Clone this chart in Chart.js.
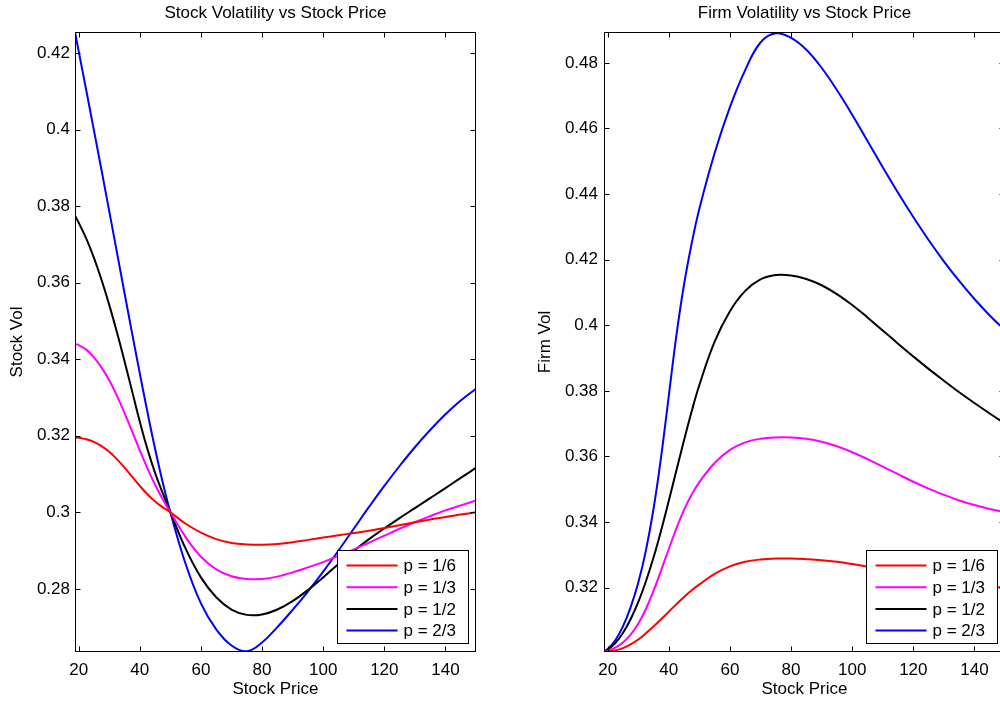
<!DOCTYPE html>
<html>
<head>
<meta charset="utf-8">
<script src="https://cdn.jsdelivr.net/npm/chart.js@4"></script>
<style>
    html, body { margin: 0; padding: 0; background: #fff; overflow: hidden; }
    #wrap { position: relative; width: 1000px; height: 702px; overflow: hidden; }
    canvas { position: absolute; top: 0; }
    #chartStock { left: 0; }
    #chartFirm { left: 500px; }
</style>
</head>
<body>
<div id="wrap">
    <canvas id="chartStock" width="500" height="702"></canvas>
    <canvas id="chartFirm" width="510" height="702"></canvas>
</div>
<script>
// ======================== DADOS ========================
const stockPrice = [18.8, 20, 22.5, 25, 27.5, 30, 32.5, 35, 37.5, 40, 42.5, 45, 47.5, 50,
    55, 60, 65, 70, 75, 80, 85, 90, 95, 100, 105, 110, 115, 120, 125, 130, 135, 140, 145, 150];

const seriesLabels = ['p = 1/6', 'p = 1/3', 'p = 1/2', 'p = 2/3'];
const seriesColors = ['#ff0000', '#ff00ff', '#000000', '#0000ff'];

// Stock Vol
const stockVolP16 = [0.3196, 0.3195, 0.3191, 0.3184, 0.3173, 0.3158, 0.3139, 0.3117, 0.3093, 0.3069, 0.3047, 0.3028, 0.3013, 0.3000,
    0.2970, 0.2947, 0.2930, 0.2920, 0.2916, 0.2915, 0.2917, 0.2922, 0.2928, 0.2934, 0.2940, 0.2946, 0.2952, 0.2959, 0.2966, 0.2974, 0.2981, 0.2988, 0.2994, 0.3000];
const stockVolP13 = [0.3440, 0.3437, 0.3425, 0.3405, 0.3378, 0.3345, 0.3305, 0.3260, 0.3211, 0.3162, 0.3115, 0.3072, 0.3034, 0.3000,
    0.2935, 0.2884, 0.2851, 0.2833, 0.2826, 0.2826, 0.2832, 0.2843, 0.2856, 0.2870, 0.2886, 0.2903, 0.2921, 0.2939, 0.2957, 0.2974, 0.2990, 0.3005, 0.3018, 0.3031];
const stockVolP12 = [0.3775, 0.3757, 0.3715, 0.3665, 0.3607, 0.3542, 0.3471, 0.3395, 0.3316, 0.3237, 0.3165, 0.3103, 0.3050, 0.3000,
    0.2905, 0.2830, 0.2778, 0.2746, 0.2732, 0.2733, 0.2746, 0.2768, 0.2797, 0.2830, 0.2865, 0.2899, 0.2930, 0.2958, 0.2985, 0.3011, 0.3037, 0.3063, 0.3090, 0.3116];
const stockVolP23 = [0.4255, 0.4205, 0.4102, 0.3998, 0.3893, 0.3787, 0.3680, 0.3573, 0.3467, 0.3363, 0.3262, 0.3166, 0.3078, 0.3000,
    0.2865, 0.2762, 0.2694, 0.2652, 0.2637, 0.2660, 0.2700, 0.2745, 0.2793, 0.2845, 0.2900, 0.2957, 0.3014, 0.3069, 0.3121, 0.3170, 0.3215, 0.3256, 0.3292, 0.3323];

// Firm Vol
const firmVolP16 = [0.3004, 0.3005, 0.3009, 0.3016, 0.3027, 0.3042, 0.3061, 0.3082, 0.3104, 0.3127, 0.3150, 0.3172, 0.3192, 0.3210,
    0.3242, 0.3265, 0.3279, 0.3286, 0.3289, 0.3289, 0.3287, 0.3284, 0.3279, 0.3272, 0.3264, 0.3255, 0.3246, 0.3237, 0.3229, 0.3221, 0.3215, 0.3209, 0.3204, 0.3200];
const firmVolP13 = [0.3004, 0.3007, 0.3017, 0.3033, 0.3057, 0.3090, 0.3135, 0.3190, 0.3253, 0.3318, 0.3381, 0.3437, 0.3484, 0.3522,
    0.3580, 0.3620, 0.3643, 0.3654, 0.3658, 0.3658, 0.3654, 0.3645, 0.3631, 0.3613, 0.3592, 0.3569, 0.3546, 0.3523, 0.3502, 0.3483, 0.3466, 0.3452, 0.3440, 0.3430];
const firmVolP12 = [0.3005, 0.3011, 0.3031, 0.3062, 0.3104, 0.3156, 0.3219, 0.3292, 0.3375, 0.3465, 0.3558, 0.3650, 0.3738, 0.3818,
    0.3950, 0.4043, 0.4105, 0.4140, 0.4153, 0.4152, 0.4141, 0.4122, 0.4095, 0.4062, 0.4024, 0.3984, 0.3944, 0.3905, 0.3867, 0.3831, 0.3796, 0.3763, 0.3731, 0.3700];
const firmVolP23 = [0.3006, 0.3013, 0.3040, 0.3082, 0.3140, 0.3215, 0.3313, 0.3440, 0.3600, 0.3785, 0.3970, 0.4125, 0.4250, 0.4355,
    0.4525, 0.4665, 0.4778, 0.4862, 0.4890, 0.4876, 0.4840, 0.4785, 0.4717, 0.4642, 0.4562, 0.4482, 0.4404, 0.4330, 0.4260, 0.4195, 0.4135, 0.4080, 0.4030, 0.3985];

const xTicks = [20, 40, 60, 80, 100, 120, 140];
const stockVolTicks = [0.28, 0.30, 0.32, 0.34, 0.36, 0.38, 0.40, 0.42];
const firmVolTicks = [0.32, 0.34, 0.36, 0.38, 0.40, 0.42, 0.44, 0.46, 0.48];

const FONT = "'Liberation Sans', Arial, Helvetica, sans-serif";

// ======================== PLUGINS ========================
// caixa estilo MATLAB com ticks para dentro + titulo
const caixaEixos = {
    id: 'caixaEixos',
    afterDatasetsDraw(chart, args, opts) {
        const { ctx, chartArea: a, scales } = chart;
        const L = Math.round(a.left) + 0.5, R = Math.round(a.right) - 0.5;
        const T = Math.round(a.top) + 0.5, B = Math.round(a.bottom) - 0.5;
        ctx.save();
        ctx.strokeStyle = '#000';
        ctx.lineWidth = 1;
        ctx.strokeRect(L, T, R - L, B - T);
        ctx.beginPath();
        scales.x.ticks.forEach((t) => {
            const px = Math.round(scales.x.getPixelForValue(t.value)) + 0.5;
            ctx.moveTo(px, B); ctx.lineTo(px, B - 5);
            ctx.moveTo(px, T); ctx.lineTo(px, T + 5);
        });
        scales.y.ticks.forEach((t) => {
            const py = Math.round(scales.y.getPixelForValue(t.value)) + 0.5;
            ctx.moveTo(L, py); ctx.lineTo(L + 5, py);
            ctx.moveTo(R, py); ctx.lineTo(R - 5, py);
        });
        ctx.stroke();
        ctx.fillStyle = '#000';
        ctx.font = '17px ' + FONT;
        ctx.textAlign = 'center';
        ctx.textBaseline = 'alphabetic';
        ctx.fillText(opts.text, (a.left + a.right) / 2, 18);
        ctx.restore();
    },
};

// legenda dentro do grafico, canto inferior direito
const legendaCaixa = {
    id: 'legendaCaixa',
    afterDraw(chart) {
        const { ctx, chartArea: a } = chart;
        const w = 131, h = 93;
        const x0 = Math.round(a.right - 8 - w) + 0.5;
        const y0 = Math.round(a.bottom - 9 - h) + 0.5;
        ctx.save();
        ctx.fillStyle = '#fff';
        ctx.fillRect(x0, y0, w, h);
        ctx.strokeStyle = '#000';
        ctx.lineWidth = 1;
        ctx.strokeRect(x0, y0, w, h);
        ctx.font = '17px ' + FONT;
        ctx.textBaseline = 'middle';
        ctx.textAlign = 'left';
        chart.data.datasets.forEach((ds, i) => {
            const yy = y0 + 15 + i * 21.7;
            ctx.strokeStyle = ds.borderColor;
            ctx.lineWidth = 2;
            ctx.beginPath();
            ctx.moveTo(x0 + 9, yy);
            ctx.lineTo(x0 + 60, yy);
            ctx.stroke();
            ctx.fillStyle = '#000';
            ctx.fillText(ds.label, x0 + 66, yy + 1);
        });
        ctx.restore();
    },
};

// ======================== GRAFICOS ========================
function montarDatasets(series) {
    return series.map((vals, i) => ({
        label: seriesLabels[i],
        data: stockPrice.map((x, k) => ({ x: x, y: vals[k] })),
        borderColor: seriesColors[i],
        borderWidth: 2,
        pointRadius: 0,
        tension: 0.4,
        fill: false,
    }));
}

function criarGrafico(id, series, cfg) {
    const ctx = document.getElementById(id).getContext('2d');
    return new Chart(ctx, {
        type: 'line',
        data: { datasets: montarDatasets(series) },
        options: {
            responsive: false,
            animation: false,
            events: [],
            layout: { padding: { top: 32, right: cfg.padRight, left: 0, bottom: 0 } },
            plugins: {
                legend: { display: false },
                tooltip: { enabled: false },
                caixaEixos: { text: cfg.title },
            },
            scales: {
                x: {
                    type: 'linear',
                    min: 18.8,
                    max: 150,
                    grid: { display: false, drawTicks: false },
                    border: { display: false },
                    afterBuildTicks: (axis) => { axis.ticks = xTicks.map((v) => ({ value: v })); },
                    afterFit: (scale) => { scale.height = 50; },
                    ticks: {
                        color: '#000',
                        padding: 8,
                        maxRotation: 0,
                        font: { family: FONT, size: 17 },
                        callback: (v) => String(v),
                    },
                    title: {
                        display: true,
                        text: 'Stock Price',
                        color: '#000',
                        font: { family: FONT, size: 17 },
                        padding: { top: 0, bottom: 2 },
                    },
                },
                y: {
                    type: 'linear',
                    min: cfg.yMin,
                    max: cfg.yMax,
                    grid: { display: false, drawTicks: false },
                    border: { display: false },
                    afterBuildTicks: (axis) => { axis.ticks = cfg.yTicks.map((v) => ({ value: v })); },
                    afterFit: (scale) => { scale.width = cfg.yWidth; },
                    ticks: {
                        color: '#000',
                        padding: cfg.yTickPad,
                        font: { family: FONT, size: 17 },
                        callback: (v) => String(+v.toFixed(2)),
                    },
                    title: {
                        display: true,
                        text: cfg.yTitle,
                        color: '#000',
                        font: { family: FONT, size: 17 },
                        padding: { top: cfg.yTitlePad, bottom: 0 },
                    },
                },
            },
        },
        plugins: [caixaEixos, legendaCaixa],
    });
}

criarGrafico('chartStock', [stockVolP16, stockVolP13, stockVolP12, stockVolP23], {
    title: 'Stock Volatility vs Stock Price',
    yTitle: 'Stock Vol',
    yMin: 0.2635,
    yMax: 0.4255,
    yTicks: stockVolTicks,
    yWidth: 75,
    yTickPad: 5,
    yTitlePad: 7,
    padRight: 24,
});

criarGrafico('chartFirm', [firmVolP16, firmVolP13, firmVolP12, firmVolP23], {
    title: 'Firm Volatility vs Stock Price',
    yTitle: 'Firm Vol',
    yMin: 0.3004,
    yMax: 0.4894,
    yTicks: firmVolTicks,
    yWidth: 104,
    yTickPad: 6,
    yTitlePad: 35,
    padRight: 5,
});
</script>
</body>
</html>
